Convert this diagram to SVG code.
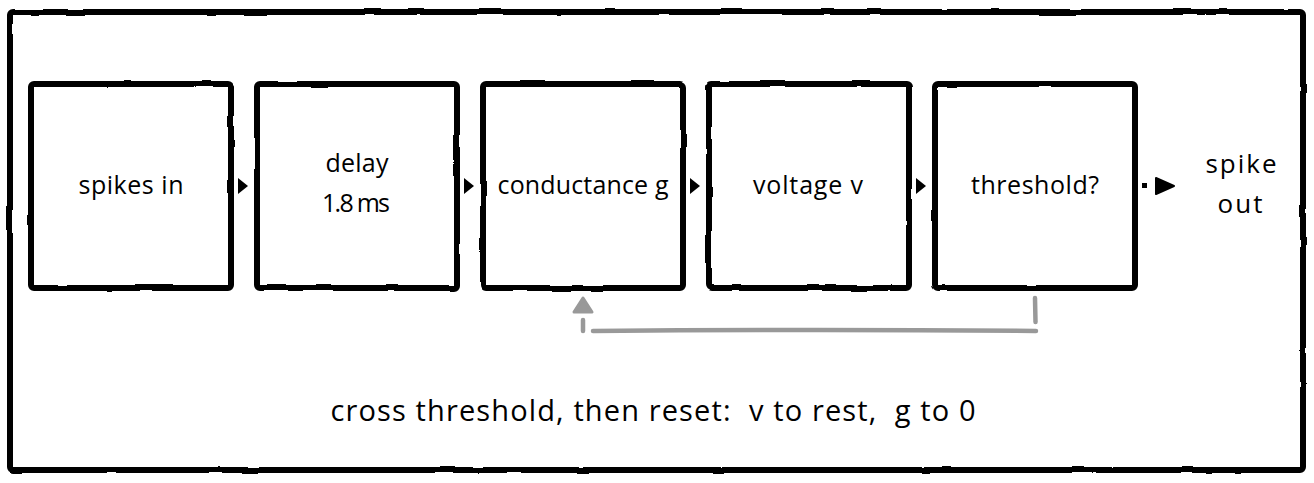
<svg xmlns="http://www.w3.org/2000/svg" width="1314" height="483" viewBox="0 0 1314 483">
<style>
.box{fill:none;stroke:#000;stroke-width:6;stroke-linejoin:round}
.lbl{font-family:"Open Sans","Liberation Sans",sans-serif;font-size:25px;font-weight:500;fill:#000;text-anchor:middle}
.fb{fill:none;stroke:#999;stroke-width:4.5;stroke-linecap:round}
.ah{fill:#000}
</style>
<defs>
<filter id="wob" x="-2%" y="-2%" width="104%" height="104%">
<feTurbulence type="fractalNoise" baseFrequency="0.03" numOctaves="2" seed="3"/>
<feDisplacementMap in="SourceGraphic" scale="2.5" xChannelSelector="R" yChannelSelector="G"/>
</filter>
</defs>
<rect width="1314" height="483" fill="#fff"/>
<g id="frame">
<rect x="10" y="12" width="1293" height="458" rx="3" class="box" filter="url(#wob)"/>
</g>
<g id="node-spikes-in">
<rect x="31" y="84" width="200" height="204" rx="3" class="box" filter="url(#wob)"/>
<text x="131" y="194" class="lbl" textLength="105">spikes in</text>
</g>
<g id="node-delay">
<rect x="257" y="84" width="200" height="204" rx="3" class="box" filter="url(#wob)"/>
<text x="357" y="172" class="lbl" textLength="63">delay</text>
<text x="356" y="212" class="lbl" textLength="68">1.8 ms</text>
</g>
<g id="node-conductance">
<rect x="483" y="84" width="200" height="204" rx="3" class="box" filter="url(#wob)"/>
<text x="583" y="194" class="lbl" textLength="171">conductance g</text>
</g>
<g id="node-voltage">
<rect x="709" y="84" width="200" height="204" rx="3" class="box" filter="url(#wob)"/>
<text x="808" y="194" class="lbl" textLength="110">voltage v</text>
</g>
<g id="node-threshold">
<rect x="935" y="84" width="200" height="204" rx="3" class="box" filter="url(#wob)"/>
<text x="1035" y="194" class="lbl" textLength="128">threshold?</text>
</g>
<g id="node-spike-out">
<text x="1241" y="173" class="lbl" style="font-size:26px" textLength="71">spike</text>
<text x="1240" y="213" class="lbl" style="font-size:26px" textLength="45">out</text>
</g>
<g id="connectors">
<polygon class="ah" points="238,178 248,186 238,194"/>
<polygon class="ah" points="464,178 474,186 464,194"/>
<polygon class="ah" points="690,178 700,186 690,194"/>
<polygon class="ah" points="916,178 926,186 916,194"/>
<rect x="1142" y="183" width="5" height="5" fill="#000"/>
<path d="M1156,178 L1174,186 L1156,194 Z" fill="#000" stroke="#000" stroke-width="2" stroke-linejoin="round"/>
<path class="fb" d="M1035,298 L1035.5,322"/>
<path class="fb" d="M1036,331 Q820,329 593,331"/>
<path class="fb" d="M583,320 L583,331"/>
<path d="M583,298 L592,312 L574,312 Z" fill="#999" stroke="#999" stroke-width="3" stroke-linejoin="round"/>
</g>
<text x="653" y="421" class="lbl" style="font-size:29px" textLength="645" xml:space="preserve">cross threshold, then reset:  v to rest,  g to 0</text>
</svg>
